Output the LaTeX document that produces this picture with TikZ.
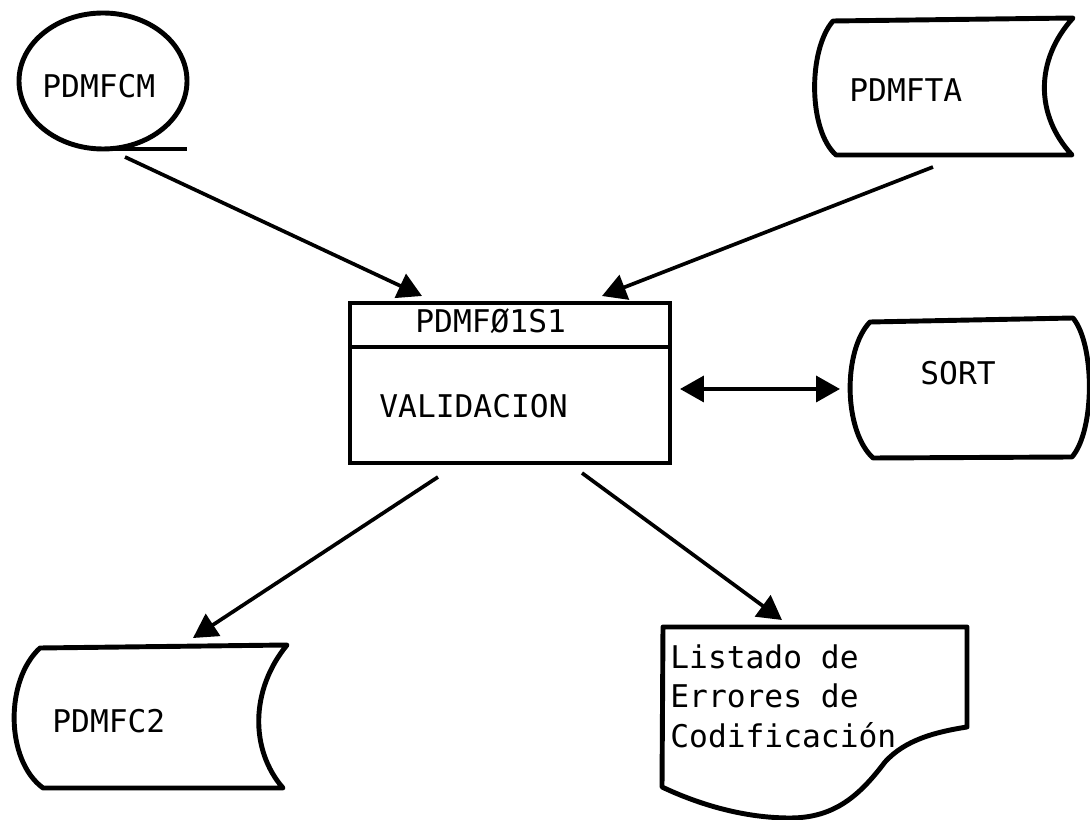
\documentclass[tikz,border=0pt]{standalone}
\usepackage{fontspec}
\setmonofont{DejaVu Sans Mono}
\usetikzlibrary{arrows.meta}

\begin{document}
\begin{tikzpicture}[x=0.02cm, y=-0.02cm,
    outline/.style={line width=2.8pt, line join=round},
    boxline/.style={line width=2.3pt},
    flow/.style={line width=2.1pt, -{Triangle[length=0.48cm, width=0.52cm]}},
    twoway/.style={line width=2.1pt, {Triangle[length=0.48cm, width=0.52cm]}-{Triangle[length=0.48cm, width=0.52cm]}},
    txt/.style={font=\ttfamily\fontsize{17.8pt}{22.7pt}\selectfont, inner sep=0pt, anchor=base west, align=left}]
    \useasboundingbox (0,0) rectangle (1090,820);

    % cinta magnetica
    \draw[outline] (103,81) ellipse [x radius=84, y radius=68];
    \draw[outline] (115,149) -- (187,149);
    \node[txt] (pdmfcm) at (42,98) {PDMFCM};

    % archivo PDMFTA
    \draw[outline] (833,21) -- (1073,18) .. controls (1035,60) and (1035,115) .. (1072,155)
        -- (836,155) .. controls (808,130) and (808,50) .. (833,21) -- cycle;
    \node[txt] (pdmfta) at (849,102) {PDMFTA};

    % programa
    \draw[boxline] (350,303) rectangle (670,463);
    \draw[boxline] (350,347) -- (670,347);
    \node[txt] (prog) at (415,333) {PDMFØ1S1};
    \node[txt] (valid) at (379,418) {VALIDACION};

    % SORT
    \draw[outline] (870,322) -- (1073,318) .. controls (1095,345) and (1095,430) .. (1072,457)
        -- (873,458) .. controls (843,430) and (843,350) .. (870,322) -- cycle;
    \node[txt] (sort) at (920,385) {SORT};

    % archivo PDMFC2
    \draw[outline] (40,648) -- (287,645) .. controls (250,690) and (250,750) .. (283,788)
        -- (43,788) .. controls (5,760) and (5,680) .. (40,648) -- cycle;
    \node[txt] (pdmfc2) at (52,733) {PDMFC2};

    % listado
    \draw[outline] (663,627) -- (967,627) -- (967,727)
        .. controls (935,732) and (905,740) .. (885,762)
        .. controls (860,795) and (835,818) .. (790,818)
        .. controls (745,818) and (700,805) .. (662,787) -- cycle;
    \node[txt, anchor=north west] (listado) at (670,644) {Listado de\\Errores de\\Codificación};

    % puntos de las flechas
    \coordinate (cmOut) at (125,157);
    \coordinate (validNW) at (422,296);
    \coordinate (taOut) at (933,167);
    \coordinate (validNE) at (602,296);
    \coordinate (validSW) at (438,477);
    \coordinate (c2In) at (193,638);
    \coordinate (validSE) at (582,473);
    \coordinate (listIn) at (782,620);
    \coordinate (validE) at (680,389);
    \coordinate (sortW) at (840,389);

    \draw[flow] (cmOut) -- (validNW);
    \draw[flow] (taOut) -- (validNE);
    \draw[flow] (validSW) -- (c2In);
    \draw[flow] (validSE) -- (listIn);
    \draw[twoway] (validE) -- (sortW);
\end{tikzpicture}
\end{document}
